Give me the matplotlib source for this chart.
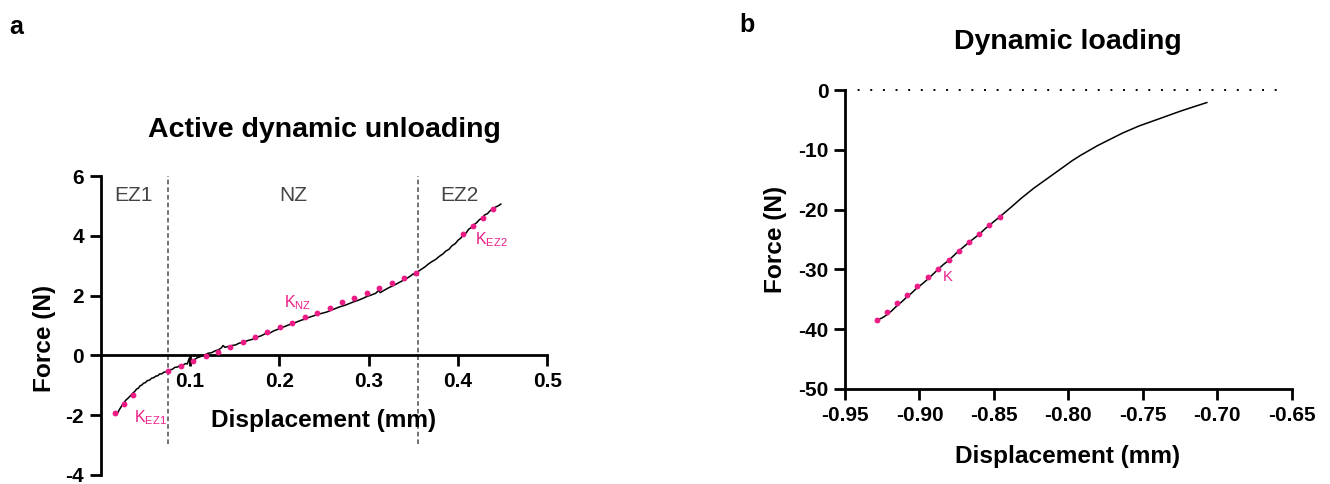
import matplotlib
matplotlib.use('Agg')
import matplotlib.pyplot as plt

plt.rcParams['font.family'] = ['Liberation Sans', 'DejaVu Sans']
plt.rcParams['mathtext.default'] = 'regular'
plt.rcParams['axes.unicode_minus'] = False

PINK = '#ec1c86'
ZONE_GREY = '#444444'

# ---- panel a: active dynamic unloading ----
unload_disp = [0.018, 0.020, 0.022, 0.025, 0.028, 0.031, 0.033, 0.036, 0.038, 0.040,
               0.042, 0.044, 0.046, 0.048, 0.050, 0.052, 0.055, 0.057, 0.059, 0.062,
               0.064, 0.066, 0.068, 0.071, 0.074, 0.077, 0.080, 0.083, 0.086, 0.089,
               0.092, 0.095, 0.097, 0.099, 0.100, 0.102, 0.105, 0.108, 0.111, 0.114,
               0.117, 0.120, 0.124, 0.128, 0.132, 0.135, 0.137, 0.139, 0.143, 0.147,
               0.151, 0.155, 0.160, 0.165, 0.170, 0.175, 0.180, 0.185, 0.189, 0.193,
               0.198, 0.203, 0.208, 0.213, 0.218, 0.223, 0.228, 0.233, 0.238, 0.243,
               0.248, 0.253, 0.258, 0.263, 0.268, 0.273, 0.278, 0.283, 0.288, 0.293,
               0.298, 0.303, 0.308, 0.311, 0.313, 0.318, 0.323, 0.328, 0.333, 0.338,
               0.343, 0.347, 0.350, 0.352, 0.355, 0.359, 0.363, 0.367, 0.371, 0.375,
               0.379, 0.383, 0.386, 0.390, 0.393, 0.397, 0.400, 0.403, 0.406, 0.409,
               0.412, 0.415, 0.418, 0.421, 0.424, 0.427, 0.430, 0.433, 0.436, 0.439,
               0.442, 0.445, 0.448]
unload_force = [-1.98, -1.86, -1.76, -1.62, -1.50, -1.42, -1.36, -1.26, -1.21, -1.13,
                -1.10, -1.02, -0.99, -0.93, -0.91, -0.85, -0.82, -0.76, -0.75, -0.69,
                -0.68, -0.62, -0.62, -0.56, -0.54, -0.48, -0.47, -0.40, -0.39, -0.33,
                -0.33, -0.27, -0.29, -0.10, -0.31, -0.15, -0.14, -0.08, -0.05, 0.01,
                0.02, 0.07, 0.09, 0.15, 0.19, 0.25, 0.33, 0.27, 0.30, 0.33,
                0.35, 0.41, 0.44, 0.50, 0.54, 0.61, 0.66, 0.74, 0.74, 0.81,
                0.87, 0.93, 0.99, 1.05, 1.10, 1.16, 1.21, 1.27, 1.32, 1.37,
                1.41, 1.45, 1.51, 1.57, 1.63, 1.67, 1.73, 1.79, 1.84, 1.90,
                1.97, 2.02, 2.08, 2.17, 2.10, 2.19, 2.27, 2.34, 2.42, 2.50,
                2.58, 2.66, 2.73, 2.68, 2.80, 2.88, 2.96, 3.06, 3.14, 3.21,
                3.31, 3.39, 3.48, 3.55, 3.66, 3.74, 3.85, 3.92, 4.04, 4.09,
                4.22, 4.28, 4.37, 4.44, 4.54, 4.59, 4.70, 4.74, 4.84, 4.88,
                4.96, 5.00, 5.06]

# stiffness fits (pink dots)
kez1_x = [0.016, 0.026, 0.0365]
kez1_y = [-1.94, -1.64, -1.31]
knz_x = [0.0757, 0.0896, 0.1034, 0.1176, 0.1314, 0.1452, 0.1590, 0.1728, 0.1866, 0.2008,
         0.2146, 0.2284, 0.2422, 0.2565, 0.2702, 0.2840, 0.2982, 0.3120, 0.3259, 0.3396,
         0.3534]
knz_y = [-0.51, -0.37, -0.20, -0.03, 0.13, 0.28, 0.45, 0.61, 0.77, 0.95,
         1.10, 1.28, 1.43, 1.60, 1.77, 1.93, 2.09, 2.26, 2.42, 2.59,
         2.75]
kez2_x = [0.406, 0.4169, 0.4281, 0.4397]
kez2_y = [4.06, 4.32, 4.60, 4.89]

zone_bounds = [0.0757, 0.355]
zone_names = ['EZ1', 'NZ', 'EZ2']
zone_pos = [0.037, 0.216, 0.402]

# ---- panel b: dynamic loading ----
load_disp = [-0.9286, -0.9250, -0.9219, -0.9185, -0.9152, -0.9118, -0.9084, -0.9050, -0.9017, -0.8980,
             -0.8943, -0.8909, -0.8875, -0.8840, -0.8804, -0.8770, -0.8736, -0.8702, -0.8669, -0.8633,
             -0.8597, -0.8563, -0.8530, -0.8495, -0.8460, -0.8413, -0.8366, -0.8321, -0.8276, -0.8231,
             -0.8186, -0.8141, -0.8085, -0.8029, -0.7973, -0.7916, -0.7860, -0.7804, -0.7748, -0.7692,
             -0.7636, -0.7580, -0.7524, -0.7467, -0.7411, -0.7355, -0.7299, -0.7243, -0.7157, -0.7070]
load_force = [-38.5, -38.1, -37.6, -36.9, -36.1, -35.4, -34.6, -33.9, -33.1, -32.4,
              -31.6, -30.8, -30.0, -29.2, -28.5, -27.7, -26.9, -26.2, -25.5, -24.8,
              -24.1, -23.3, -22.6, -21.9, -21.2, -20.2, -19.2, -18.2, -17.3, -16.4,
              -15.6, -14.8, -13.8, -12.8, -11.8, -10.9, -10.1, -9.3, -8.6, -7.9,
              -7.2, -6.6, -6.0, -5.5, -5.0, -4.5, -4.0, -3.5, -2.8, -2.1]
k_x = [-0.9286, -0.9219, -0.9152, -0.9084, -0.9017, -0.8943, -0.8875, -0.8804, -0.8736, -0.8669,
       -0.8597, -0.8530, -0.8460]
k_y = [-38.5, -37.2, -35.7, -34.3, -32.8, -31.3, -29.9, -28.4, -26.9, -25.5,
       -24.1, -22.6, -21.2]

W, H = 1330, 484
fig = plt.figure(figsize=(W / 100, H / 100), dpi=100)


def px(x, y):
    return x / W, 1 - y / H


def style_axes(ax):
    for s in ['top', 'right']:
        ax.spines[s].set_visible(False)
    for s in ['left', 'bottom']:
        ax.spines[s].set_linewidth(2.0)
    ax.tick_params(width=2.0, length=8, labelsize=15, pad=4)
    for lab in ax.get_xticklabels() + ax.get_yticklabels():
        lab.set_fontweight('bold')


# panel a
ax1 = fig.add_axes([100.7 / W, 1 - 475 / H, 446.6 / W, 299 / H])
ax1.set_xlim(0, 0.5)
ax1.set_ylim(-4, 6)
ax1.spines['bottom'].set_position(('data', 0))
ax1.set_xticks([0.1, 0.2, 0.3, 0.4, 0.5])
ax1.set_xticklabels(['0.1', '0.2', '0.3', '0.4', '0.5'])
ax1.set_yticks([-4, -2, 0, 2, 4, 6])
ax1.set_yticklabels(['-4', '-2', '0', '2', '4', '6'])
style_axes(ax1)

for xb in zone_bounds:
    ax1.plot([xb, xb], [-2.95, 6], color='#4a4a4a', lw=1.1, ls=(0, (3, 2)), zorder=1)
for name, xp in zip(zone_names, zone_pos):
    ax1.text(xp, 5.36, name, ha='center', va='center', fontsize=15, color=ZONE_GREY)

ax1.plot(unload_disp, unload_force, color='black', lw=1.1, zorder=3)
for kx, ky in [(kez1_x, kez1_y), (knz_x, knz_y), (kez2_x, kez2_y)]:
    ax1.plot(kx, ky, 'o', color=PINK, ms=4.2, mew=0, zorder=4)

ax1.text(0.0373, -2.09, r'K$_{EZ1}$', color=PINK, fontsize=11.5, ha='left', va='center')
ax1.text(0.2055, 1.75, r'K$_{NZ}$', color=PINK, fontsize=11.5, ha='left', va='center')
ax1.text(0.4185, 3.86, r'K$_{EZ2}$', color=PINK, fontsize=11.5, ha='left', va='center')

fig.text(*px(324, 130), 'Active dynamic unloading', ha='center', va='center',
         fontsize=20.5, fontweight='bold')
fig.text(*px(324, 421), 'Displacement (mm)', ha='center', va='center',
         fontsize=17.6, fontweight='bold')
fig.text(*px(45, 338), 'Force (N)', ha='center', va='center', rotation=90,
         fontsize=17.6, fontweight='bold')
fig.text(*px(16, 27), 'a', ha='center', va='center', fontsize=18, fontweight='bold')

# panel b
ax2 = fig.add_axes([845 / W, 1 - 389 / H, 446.7 / W, 299 / H])
ax2.set_xlim(-0.95, -0.65)
ax2.set_ylim(-50, 0)
ax2.set_xticks([-0.95, -0.90, -0.85, -0.80, -0.75, -0.70, -0.65])
ax2.set_xticklabels(['-0.95', '-0.90', '-0.85', '-0.80', '-0.75', '-0.70', '-0.65'])
ax2.set_yticks([-50, -40, -30, -20, -10, 0])
ax2.set_yticklabels(['-50', '-40', '-30', '-20', '-10', '0'])
style_axes(ax2)

ax2.plot([-0.95, -0.654], [0, 0], color='black', lw=1.4, ls=(0, (1, 5.5)), clip_on=False)
ax2.plot(load_disp, load_force, color='black', lw=1.1, zorder=3)
ax2.plot(k_x, k_y, 'o', color=PINK, ms=4.2, mew=0, zorder=4)
ax2.text(-0.8808, -31.2, 'K', color=PINK, fontsize=10.5, ha='center', va='center')

fig.text(*px(1068, 42), 'Dynamic loading', ha='center', va='center',
         fontsize=20.5, fontweight='bold')
fig.text(*px(1068, 456), 'Displacement (mm)', ha='center', va='center',
         fontsize=17.6, fontweight='bold')
fig.text(*px(775, 239), 'Force (N)', ha='center', va='center', rotation=90,
         fontsize=17.6, fontweight='bold')
fig.text(*px(747, 25), 'b', ha='center', va='center', fontsize=18, fontweight='bold')

fig.savefig('out.png', dpi=100)
